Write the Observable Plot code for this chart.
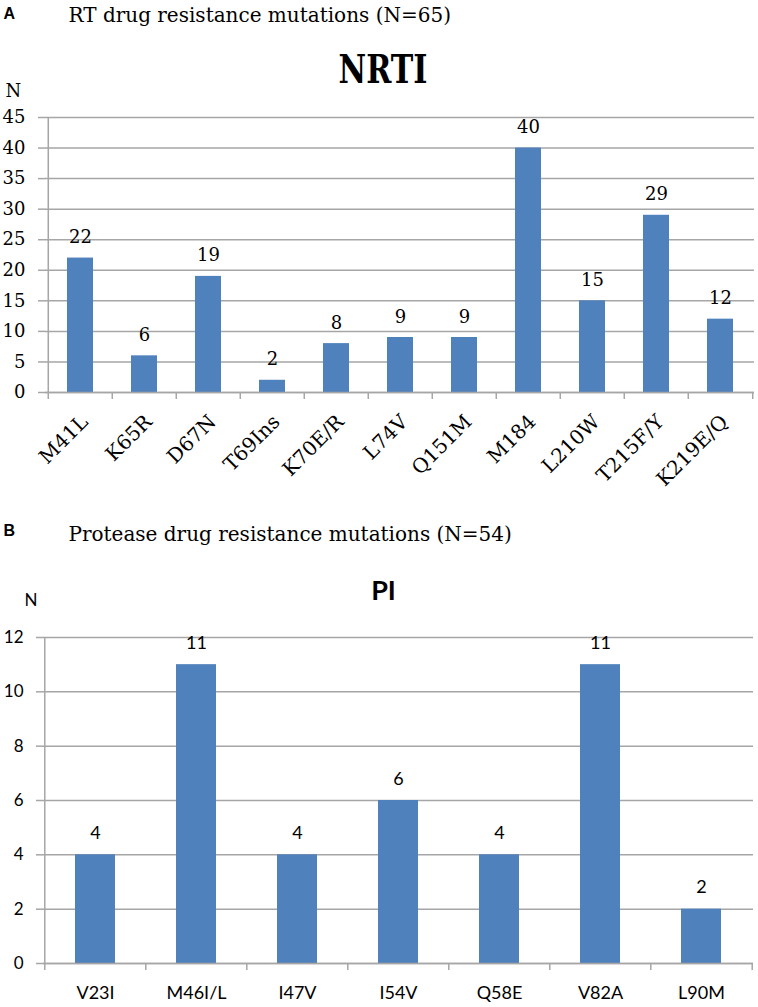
<!DOCTYPE html>
<html><head><meta charset="utf-8">
<script src="https://cdn.jsdelivr.net/npm/d3@7"></script>
<script src="https://cdn.jsdelivr.net/npm/@observablehq/plot@0.6"></script>
<style>
body{margin:0;background:#fff;}
#wrap{width:758px;height:1007px;position:relative;overflow:hidden;background:#fff;}
#wrap svg{display:block;}
</style></head><body><div id="wrap"></div>
<script>
// ---- data ----
const nrtiMutations = ["M41L","K65R","D67N","T69Ins","K70E/R","L74V","Q151M","M184","L210W","T215F/Y","K219E/Q"];
const nrtiCounts = [22,6,19,2,8,9,9,40,15,29,12];
const nrtiTicks = [0,5,10,15,20,25,30,35,40,45];
const piMutations = ["V23I","M46I/L","I47V","I54V","Q58E","V82A","L90M"];
const piCounts = [4,11,4,6,4,11,2];
const piTicks = [0,2,4,6,8,10,12];
const panelA = "A", titleA = "RT drug resistance mutations (N=65)", headA = "NRTI";
const panelB = "B", titleB = "Protease drug resistance mutations (N=54)", headB = "PI";
const yLabel = "N";

// ---- style ----
const W = 758;
const grid = "#a6a6a6", blue = "#4f81bd";
const serif = "DejaVu Serif", sans = "Lato";

const nrti = nrtiMutations.map((m, i) => ({mutation: m, n: nrtiCounts[i]}));
const pi = piMutations.map((m, i) => ({mutation: m, n: piCounts[i]}));

// ---- chart A ----
const aH = 505, aMT = 117, aMB = 113, aML = 45, aMR = 4;
const aStep = (W - aML - aMR) / nrtiMutations.length;
const aPlotH = aH - aMT - aMB;
const chartA = Plot.plot({
  width: W, height: aH, marginTop: aMT, marginBottom: aMB, marginLeft: aML, marginRight: aMR,
  style: {fontFamily: serif, fontSize: "18px", color: "#000", background: "#fff", overflow: "visible"},
  x: {domain: nrtiMutations, paddingInner: 0.6, paddingOuter: 0.3, label: null},
  y: {domain: [0, 45], label: null},
  marks: [
    Plot.gridY(nrtiTicks, {stroke: grid, strokeOpacity: 1, strokeWidth: 1.5}),
    Plot.barY(nrti, {x: "mutation", y: "n", fill: blue}),
    Plot.ruleY([0], {stroke: grid, strokeWidth: 1.5}),
    Plot.ruleX(nrtiMutations.slice(0, 1), {x: d => d, dx: -aStep / 2, stroke: grid, strokeWidth: 1.5}),
    Plot.ruleX(nrtiMutations, {x: d => d, dx: -aStep / 2, insetTop: aPlotH, insetBottom: -7, stroke: grid, strokeWidth: 1.5}),
    Plot.ruleX(nrtiMutations.slice(-1), {x: d => d, dx: aStep / 2, insetTop: aPlotH, insetBottom: -7, stroke: grid, strokeWidth: 1.5}),
    Plot.axisY({ticks: nrtiTicks, tickSize: 7, tickPadding: 13, stroke: grid, strokeWidth: 1.5, fill: "#000", fontSize: 18, fontFamily: serif}),
    Plot.axisX({tickSize: 0, tickRotate: -45, tickPadding: 26, fontSize: 20, fontFamily: serif, fill: "#000", dx: 4}),
    Plot.text(nrti, {x: "mutation", y: "n", text: d => String(d.n), dy: -15, lineAnchor: "bottom", fontSize: 18, fontFamily: serif, fill: "#000"}),
    Plot.text([panelA], {frameAnchor: "top-left", text: d => d, dx: -42, dy: -99, textAnchor: "start", lineAnchor: "bottom", fontFamily: "Liberation Sans", fontWeight: "bold", fontSize: 16, fill: "#000"}),
    Plot.text([titleA], {frameAnchor: "top-left", text: d => d, dx: 23, dy: -96, textAnchor: "start", lineAnchor: "bottom", fontFamily: serif, fontSize: 20, fill: "#000"}),
    Plot.text([headA], {frameAnchor: "top", text: d => d, dx: -17, dy: -35, textAnchor: "middle", lineAnchor: "bottom", fontFamily: serif, fontWeight: "bold", fontSize: 40, fill: "#000"}),
    Plot.text([yLabel], {frameAnchor: "top-left", text: d => d, dx: -40, dy: -21, textAnchor: "start", lineAnchor: "bottom", fontFamily: serif, fontSize: 18, fill: "#000"})
  ]
});

// ---- chart B ----
const bH = 502, bMT = 132, bMB = 44, bML = 43, bMR = 5;
const bStep = (W - bML - bMR) / piMutations.length;
const bPlotH = bH - bMT - bMB;
const chartB = Plot.plot({
  width: W, height: bH, marginTop: bMT, marginBottom: bMB, marginLeft: bML, marginRight: bMR,
  style: {fontFamily: sans, fontSize: "17px", color: "#000", background: "#fff", overflow: "visible"},
  x: {domain: piMutations, paddingInner: 0.6, paddingOuter: 0.3, label: null},
  y: {domain: [0, 12], label: null},
  marks: [
    Plot.gridY(piTicks, {stroke: grid, strokeOpacity: 1, strokeWidth: 1.5}),
    Plot.barY(pi, {x: "mutation", y: "n", fill: blue}),
    Plot.ruleY([0], {stroke: grid, strokeWidth: 1.5}),
    Plot.ruleX(piMutations.slice(0, 1), {x: d => d, dx: -bStep / 2, stroke: grid, strokeWidth: 1.5}),
    Plot.ruleX(piMutations, {x: d => d, dx: -bStep / 2, insetTop: bPlotH, insetBottom: -7, stroke: grid, strokeWidth: 1.5}),
    Plot.ruleX(piMutations.slice(-1), {x: d => d, dx: bStep / 2, insetTop: bPlotH, insetBottom: -7, stroke: grid, strokeWidth: 1.5}),
    Plot.axisY({ticks: piTicks, tickSize: 7, tickPadding: 13, stroke: grid, strokeWidth: 1.5, fill: "#000", fontSize: 17, fontFamily: sans}),
    Plot.axisX({tickSize: 0, tickPadding: 23, fontSize: 18, fontFamily: sans, fill: "#000"}),
    Plot.text(pi, {x: "mutation", y: "n", text: d => String(d.n), dy: -16, lineAnchor: "bottom", fontSize: 18, fontFamily: sans, fill: "#000"}),
    Plot.text([panelB], {frameAnchor: "top-left", text: d => d, dx: -40, dy: -102, textAnchor: "start", lineAnchor: "bottom", fontFamily: "Liberation Sans", fontWeight: "bold", fontSize: 16, fill: "#000"}),
    Plot.text([titleB], {frameAnchor: "top-left", text: d => d, dx: 25, dy: -97, textAnchor: "start", lineAnchor: "bottom", fontFamily: serif, fontSize: 20, fill: "#000"}),
    Plot.text([headB], {frameAnchor: "top", text: d => d, dx: -15, dy: -38, textAnchor: "middle", lineAnchor: "bottom", fontFamily: sans, fontWeight: "bold", fontSize: 27, fill: "#000"}),
    Plot.text([yLabel], {frameAnchor: "top-left", text: d => d, dx: -19, dy: -32, textAnchor: "start", lineAnchor: "bottom", fontFamily: sans, fontSize: 17, fill: "#000"})
  ]
});

// narrow the bold serif heading to the reference's width
d3.select(chartA).selectAll("text").filter(function() { return this.textContent === headA; })
  .attr("textLength", 89).attr("lengthAdjust", "spacingAndGlyphs");

const wrap = document.getElementById("wrap");
wrap.appendChild(chartA);
wrap.appendChild(chartB);
</script>
</body></html>
